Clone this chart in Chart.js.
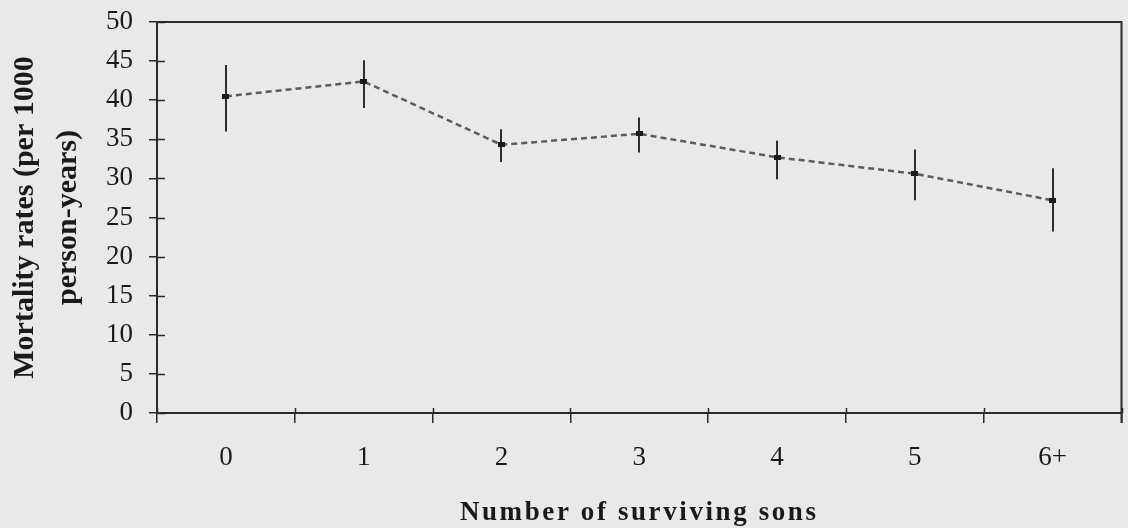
<!DOCTYPE html>
<html>
<head>
<meta charset="utf-8">
<script src="https://cdn.jsdelivr.net/npm/chart.js@4/dist/chart.umd.min.js"></script>
<style>
  html, body { margin: 0; padding: 0; background: #e9e9e9; }
  #wrap { width: 1128px; height: 528px; }
</style>
</head>
<body>
<div id="wrap"><canvas id="c" width="1128" height="528"></canvas></div>
<script>
// Mortality rates by number of surviving sons, with 95% confidence intervals
const categories = ['0', '1', '2', '3', '4', '5', '6+'];
const rates      = [40.5, 42.4, 34.3, 35.7, 32.7, 30.6, 27.2];
const lowerCI    = [36.0, 39.0, 32.1, 33.3, 29.9, 27.2, 23.2];
const upperCI    = [44.5, 45.1, 36.3, 37.8, 34.8, 33.7, 31.3];
const yTicks     = [0, 5, 10, 15, 20, 25, 30, 35, 40, 45, 50];

const xTitle = 'Number of surviving sons';
const yTitle = ['Mortality rates (per 1000', 'person-years)'];

const SERIF = "'Liberation Serif', 'Times New Roman', serif";
const INK = '#2a2a2a';

// small filled rectangle used as the point marker
const marker = document.createElement('canvas');
marker.width = 7; marker.height = 5;
{
  const m = marker.getContext('2d');
  m.fillStyle = '#1c1c1c';
  m.fillRect(0, 0, 7, 5);
}

// vertical confidence-interval bars, drawn beneath the line and markers
const errorBars = {
  id: 'errorBars',
  beforeDatasetsDraw(chart) {
    const { ctx, scales: { x, y } } = chart;
    ctx.save();
    ctx.strokeStyle = '#2e2e2e';
    ctx.lineWidth = 2;
    categories.forEach((c, i) => {
      const px = Math.round(x.getPixelForValue(i));
      ctx.beginPath();
      ctx.moveTo(px, y.getPixelForValue(upperCI[i]));
      ctx.lineTo(px, y.getPixelForValue(lowerCI[i]));
      ctx.stroke();
    });
    ctx.restore();
  }
};

// tick marks cross the axes: add the part that reaches into the plot
const innerTicks = {
  id: 'innerTicks',
  afterDraw(chart) {
    const { ctx, chartArea: a, scales: { x, y } } = chart;
    const slot = x.width / categories.length;
    ctx.save();
    ctx.strokeStyle = INK;
    ctx.lineWidth = 1.5;
    ctx.beginPath();
    y.ticks.forEach((t, i) => {
      const py = Math.round(y.getPixelForTick(i)) + 0.5;
      ctx.moveTo(a.left, py);
      ctx.lineTo(a.left + 8, py);
    });
    for (let i = 0; i <= categories.length; i++) {
      const px = Math.round(x.getPixelForValue(0) - slot / 2 + i * slot) + 0.5;
      ctx.moveTo(px, a.bottom);
      ctx.lineTo(px, a.bottom - 5);
    }
    ctx.stroke();
    ctx.restore();
  }
};

// plot frame (top and right edges) and the two axis titles
const frameAndTitles = {
  id: 'frameAndTitles',
  afterDraw(chart) {
    const { ctx, chartArea: a } = chart;
    ctx.save();
    ctx.strokeStyle = INK;
    ctx.lineWidth = 2;
    ctx.beginPath();
    ctx.moveTo(a.left, a.top);
    ctx.lineTo(a.right, a.top);
    ctx.lineTo(a.right, a.bottom + 10);
    ctx.stroke();

    ctx.fillStyle = '#1a1a1a';
    // x-axis title
    ctx.font = 'bold 27px ' + SERIF;
    if ('letterSpacing' in ctx) ctx.letterSpacing = '2.6px';
    ctx.textAlign = 'center';
    ctx.textBaseline = 'alphabetic';
    ctx.fillText(xTitle, (a.left + a.right) / 2, 520);
    if ('letterSpacing' in ctx) ctx.letterSpacing = '0px';

    // y-axis title, two lines, rotated
    ctx.font = 'bold 30px ' + SERIF;
    ctx.translate(0, (a.top + a.bottom) / 2);
    ctx.rotate(-Math.PI / 2);
    ctx.textAlign = 'center';
    ctx.fillText(yTitle[0], 0, 33);
    ctx.fillText(yTitle[1], 0, 76);
    ctx.restore();
  }
};

new Chart(document.getElementById('c'), {
  type: 'line',
  data: {
    labels: categories,
    datasets: [{
      data: rates,
      borderColor: '#5c5c5c',
      borderWidth: 2.5,
      borderDash: [6, 4],
      fill: false,
      tension: 0,
      pointStyle: marker,
      pointRadius: 4,
      pointHoverRadius: 4
    }]
  },
  options: {
    responsive: false,
    animation: false,
    events: [],
    layout: { padding: { top: 22, right: 6, left: 0, bottom: 0 } },
    plugins: { legend: { display: false }, tooltip: { enabled: false } },
    scales: {
      x: {
        type: 'category',
        offset: true,
        grid: { offset: true, drawOnChartArea: false, drawTicks: true, tickLength: 10, color: INK, lineWidth: 1.5 },
        border: { display: true, color: INK, width: 2 },
        ticks: { color: '#1a1a1a', font: { family: SERIF, size: 27 }, padding: 19 },
        afterFit(scale) { scale.height = 115; scale.paddingLeft = 0; scale.paddingRight = 0; }
      },
      y: {
        min: 0,
        max: 50,
        afterBuildTicks(scale) { scale.ticks = yTicks.map(v => ({ value: v })); },
        grid: { drawOnChartArea: false, drawTicks: true, tickLength: 8, color: INK, lineWidth: 1.5 },
        border: { display: true, color: INK, width: 2 },
        ticks: { color: '#1a1a1a', font: { family: SERIF, size: 27 }, padding: 16 },
        afterFit(scale) { scale.width = 157; scale.paddingTop = 0; scale.paddingBottom = 0; }
      }
    }
  },
  plugins: [errorBars, innerTicks, frameAndTitles]
});
</script>
</body>
</html>
